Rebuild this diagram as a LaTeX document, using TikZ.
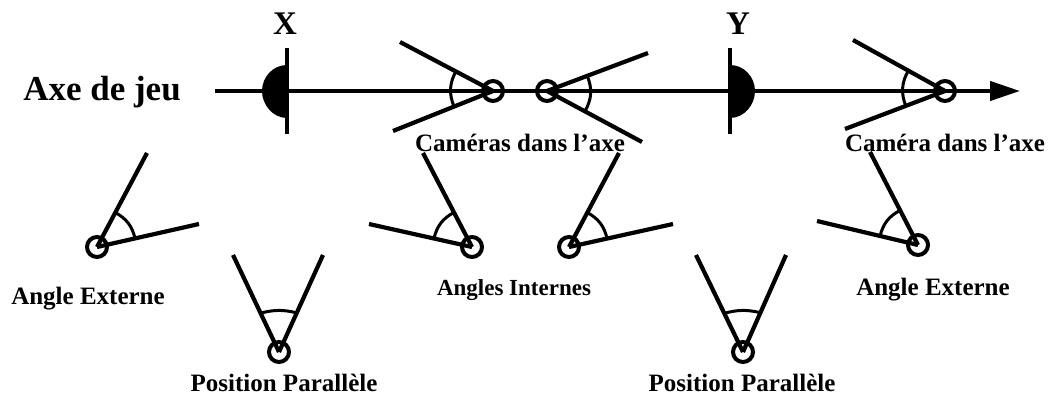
\documentclass[tikz,border=0pt]{standalone}
\usepackage{fontspec}
\setmainfont{Liberation Serif}
\usetikzlibrary{calc,arrows.meta}
\tikzset{
  cam/.style={circle,draw=black,line width=4pt,minimum size=20pt,inner sep=0pt},
  lbl/.style={font=\fontsize{25}{25}\selectfont\bfseries,inner sep=0pt},
  lblsmall/.style={font=\fontsize{23}{23}\selectfont\bfseries,inner sep=0pt},
  big/.style={font=\fontsize{35}{35}\selectfont\bfseries,inner sep=0pt},
  mark letter/.style={font=\fontsize{33}{33}\selectfont\bfseries,inner sep=0pt},
  ray/.style={line width=4.2pt},
  sweep/.style={line width=3pt},
  bar/.style={line width=4.4pt}
}
% centre, end 1, end 2, radius, bend direction and amount
\newcommand{\camview}[6]{%
  \coordinate (#1a) at #2; \coordinate (#1b) at #3;
  \draw[ray] (#1.center) -- (#1a);
  \draw[ray] (#1.center) -- (#1b);
  \draw[sweep] ($(#1.center)!#4pt!(#1a)$) to[#5=#6] ($(#1.center)!#4pt!(#1b)$);
}
\begin{document}
\begin{tikzpicture}[x=1pt,y=-1pt]
\useasboundingbox[fill=white] (0,0) rectangle (1051,395);
% axis
\coordinate (axisL) at (215,91);
\coordinate (axisM) at (600,91);
\coordinate (axisR) at (1020,91);
\node[cam] (c1) at (493,91) {};
\node[cam] (c2) at (547,91) {};
\node[cam] (c3) at (945,91) {};
\node[cam] (e1) at (97,247) {};
\node[cam] (i1) at (472,247) {};
\node[cam] (p1) at (279,352) {};
\node[cam] (i2) at (569,247) {};
\node[cam] (e2) at (918,245) {};
\node[cam] (p2) at (743,352) {};
\draw[line width=3.2pt] (axisL) -- (axisM);
\draw[line width=4.2pt,-{Triangle[length=30pt,width=19pt]}] (axisM) -- (axisR);
% players
\coordinate (xT) at (287,48); \coordinate (xB) at (287,134);
\coordinate (yT) at (730,48); \coordinate (yB) at (730,134);
\draw[bar] (xT) -- (xB);
\draw[bar] (yT) -- (yB);
\fill (287,65) .. controls (273,65) and (262,77) .. (262,91) .. controls (262,105) and (273,118) .. (287,118) -- cycle;
\fill (730,65) .. controls (744,65) and (755,77) .. (755,91) .. controls (755,105) and (744,118) .. (730,118) -- cycle;
% cameras
\camview{c1}{(400,42)}{(393,131)}{42}{bend right}{25}
\camview{c2}{(648,53)}{(642,142)}{43}{bend left}{26}
\camview{c3}{(853,40)}{(845,129)}{42}{bend right}{25}
\camview{e1}{(147,153)}{(199,224)}{39}{bend left}{24}
\camview{i1}{(423,153)}{(369,224)}{39}{bend right}{24}
\camview{p1}{(233,255)}{(323,255)}{43}{bend left}{14}
\camview{i2}{(619,153)}{(673,224)}{39}{bend left}{24}
\camview{e2}{(870,152)}{(817,221)}{39}{bend right}{24}
\camview{p2}{(696,255)}{(786,255)}{43}{bend left}{14}
% labels
\node[big] (axe) at (102,92) {Axe de jeu};
\node[mark letter] (lx) at (285,24) {X};
\node[mark letter] (ly) at (738,24) {Y};
\node[lbl] (t1) at (520,143) {Caméras dans l’axe};
\node[lbl] (t2) at (945,143) {Caméra dans l’axe};
\node[lbl] (t3) at (88,299) {Angle Externe};
\node[lbl] (t4) at (284,383) {Position Parallèle};
\node[lblsmall] (t5) at (514,290) {Angles Internes};
\node[lbl] (t6) at (742,383) {Position Parallèle};
\node[lbl] (t7) at (933,290) {Angle Externe};
\end{tikzpicture}
\end{document}
